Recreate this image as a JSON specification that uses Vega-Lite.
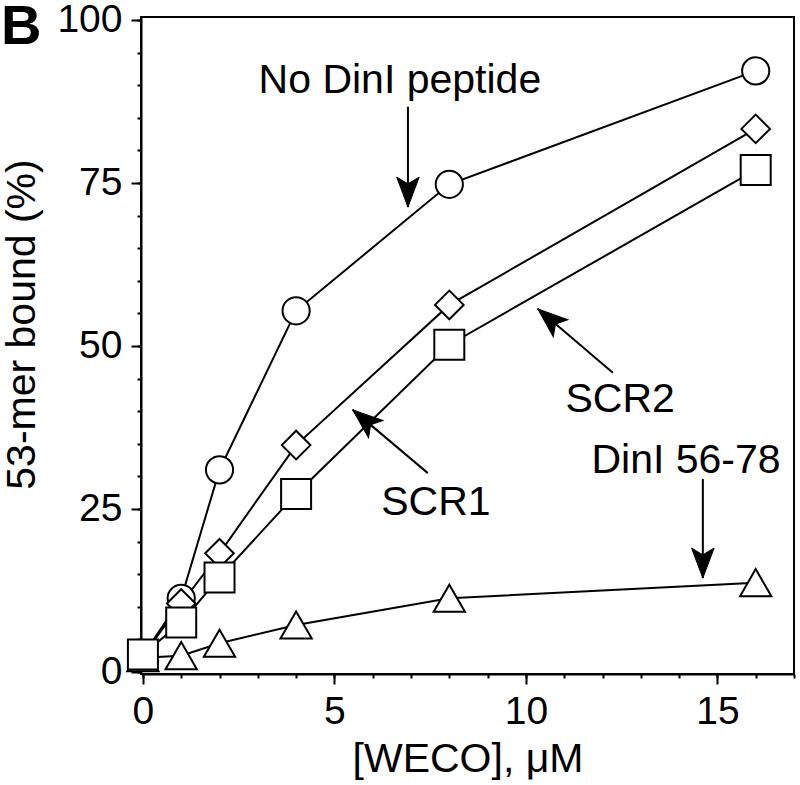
{
  "$schema": "https://vega.github.io/schema/vega-lite/v6.json",
  "width": 653,
  "height": 657,
  "autosize": {"type": "none"},
  "padding": {"left": 141, "top": 17, "right": 6, "bottom": 111},
  "background": "white",
  "config": {
    "font": "Liberation Sans",
    "view": {"stroke": "black", "strokeWidth": 2},
    "axis": {
      "grid": false,
      "domainColor": "black",
      "domainWidth": 2,
      "tickColor": "black",
      "tickWidth": 2,
      "labelColor": "black",
      "labelFontSize": 39,
      "labelFont": "Liberation Sans",
      "titleFont": "Liberation Sans",
      "titleFontSize": 41,
      "titleFontWeight": "normal",
      "titleColor": "black",
      "labelOverlap": false,
      "labelFlush": false
    }
  },
  "title": {
    "text": "B",
    "anchor": "start",
    "frame": "group",
    "orient": "top",
    "dx": -140,
    "dy": 99,
    "offset": 0,
    "baseline": "alphabetic",
    "fontSize": 56,
    "fontWeight": "bold",
    "font": "Liberation Sans",
    "color": "black"
  },
  "resolve": {"axis": {"x": "independent", "y": "independent"}},
  "datasets": {
    "binding": [
      {"series": "No DinI peptide", "weco": 0, "bound": 2.5},
      {"series": "No DinI peptide", "weco": 1, "bound": 11.3},
      {"series": "No DinI peptide", "weco": 2, "bound": 31.0},
      {"series": "No DinI peptide", "weco": 4, "bound": 55.4},
      {"series": "No DinI peptide", "weco": 8, "bound": 74.8},
      {"series": "No DinI peptide", "weco": 16, "bound": 92.2},
      {"series": "SCR1", "weco": 0, "bound": 2.5},
      {"series": "SCR1", "weco": 1, "bound": 10.5},
      {"series": "SCR1", "weco": 2, "bound": 18.2},
      {"series": "SCR1", "weco": 4, "bound": 34.8},
      {"series": "SCR1", "weco": 8, "bound": 56.3},
      {"series": "SCR1", "weco": 16, "bound": 83.3},
      {"series": "DinI 56-78", "weco": 0, "bound": 2.2},
      {"series": "DinI 56-78", "weco": 1, "bound": 2.5},
      {"series": "DinI 56-78", "weco": 2, "bound": 4.4},
      {"series": "DinI 56-78", "weco": 4, "bound": 7.2},
      {"series": "DinI 56-78", "weco": 8, "bound": 11.3},
      {"series": "DinI 56-78", "weco": 16, "bound": 13.7},
      {"series": "SCR2", "weco": 0, "bound": 2.7},
      {"series": "SCR2", "weco": 1, "bound": 7.6},
      {"series": "SCR2", "weco": 2, "bound": 14.5},
      {"series": "SCR2", "weco": 4, "bound": 27.3},
      {"series": "SCR2", "weco": 8, "bound": 50.2},
      {"series": "SCR2", "weco": 16, "bound": 77.0}
    ],
    "labels": [
      {"label": "No DinI peptide", "x": 6.71, "y": 88.8},
      {"label": "SCR2", "x": 12.46, "y": 39.9},
      {"label": "SCR1", "x": 7.65, "y": 24.1},
      {"label": "DinI 56-78", "x": 14.18, "y": 30.5}
    ],
    "arrows": [
      {"label": "No DinI peptide", "x": 6.92, "y": 86.7, "x2": 6.92, "y2": 71.3, "angle": 180},
      {"label": "SCR2", "x": 12.27, "y": 45.9, "x2": 10.31, "y2": 55.7, "angle": 310.5},
      {"label": "SCR1", "x": 7.44, "y": 30.5, "x2": 5.48, "y2": 40.2, "angle": 310},
      {"label": "DinI 56-78", "x": 14.62, "y": 29.6, "x2": 14.62, "y2": 14.4, "angle": 180}
    ]
  },
  "layer": [
    {
      "data": {"name": "binding"},
      "mark": {"type": "line", "color": "black", "strokeWidth": 2},
      "encoding": {
        "x": {
          "field": "weco", "type": "quantitative",
          "scale": {"domain": [-0.05, 17], "nice": false, "zero": false},
          "axis": {
            "orient": "bottom",
            "title": "[WECO], μM",
            "values": [0, 5, 10, 15],
            "tickSize": 10,
            "labelOverlap": false,
            "labelPadding": 8,
            "titlePadding": 8
          }
        },
        "y": {
          "field": "bound", "type": "quantitative",
          "scale": {"domain": [-0.31, 100.46], "nice": false, "zero": false},
          "axis": {
            "orient": "left",
            "title": "53-mer bound (%)",
            "values": [0, 25, 50, 75, 100],
            "tickSize": 10,
            "labelOverlap": false,
            "labelPadding": 9,
            "titlePadding": 13,
            "titleY": 307
          }
        },
        "detail": {"field": "series", "type": "nominal"}
      }
    },
    {
      "data": {"name": "binding"},
      "mark": {"type": "point", "filled": true, "fill": "white", "stroke": "black", "strokeWidth": 2, "opacity": 1},
      "encoding": {
        "x": {
          "field": "weco", "type": "quantitative",
          "axis": {
            "orient": "bottom",
            "title": null,
            "labels": false,
            "domain": false,
            "values": [0,1,2,3,4,5,6,7,8,9,10,11,12,13,14,15,16,17],
            "tickSize": 4
          }
        },
        "y": {
          "field": "bound", "type": "quantitative",
          "axis": {
            "orient": "left",
            "title": null,
            "labels": false,
            "domain": false,
            "values": [0,5,10,15,20,25,30,35,40,45,50,55,60,65,70,75,80,85,90,95,100],
            "tickSize": 4
          }
        },
        "shape": {
          "field": "series", "type": "nominal", "legend": null,
          "scale": {"domain": ["No DinI peptide", "SCR1", "SCR2", "DinI 56-78"], "range": ["circle", "diamond", "square", "triangle-up"]}
        },
        "size": {
          "field": "series", "type": "nominal", "legend": null,
          "scale": {"domain": ["No DinI peptide", "SCR1", "SCR2", "DinI 56-78"], "range": [740, 980, 850, 760]}
        }
      }
    },
    {
      "data": {"name": "arrows"},
      "mark": {"type": "rule", "color": "black", "strokeWidth": 2},
      "encoding": {
        "x": {"field": "x", "type": "quantitative", "axis": null},
        "y": {"field": "y", "type": "quantitative", "axis": null},
        "x2": {"field": "x2"},
        "y2": {"field": "y2"}
      }
    },
    {
      "data": {"name": "arrows"},
      "mark": {"type": "point", "shape": "M0,0L-0.75,2L0,1.55L0.75,2Z", "filled": true, "fill": "black", "stroke": "black", "strokeWidth": 1, "size": 900, "opacity": 1},
      "encoding": {
        "x": {"field": "x2", "type": "quantitative", "axis": null},
        "y": {"field": "y2", "type": "quantitative", "axis": null},
        "angle": {"field": "angle", "type": "quantitative", "scale": null}
      }
    },
    {
      "data": {"name": "labels"},
      "mark": {"type": "text", "font": "Liberation Sans", "fontSize": 41, "color": "black", "align": "center", "baseline": "alphabetic"},
      "encoding": {
        "x": {"field": "x", "type": "quantitative", "axis": null},
        "y": {"field": "y", "type": "quantitative", "axis": null},
        "text": {"field": "label"}
      }
    }
  ]
}
